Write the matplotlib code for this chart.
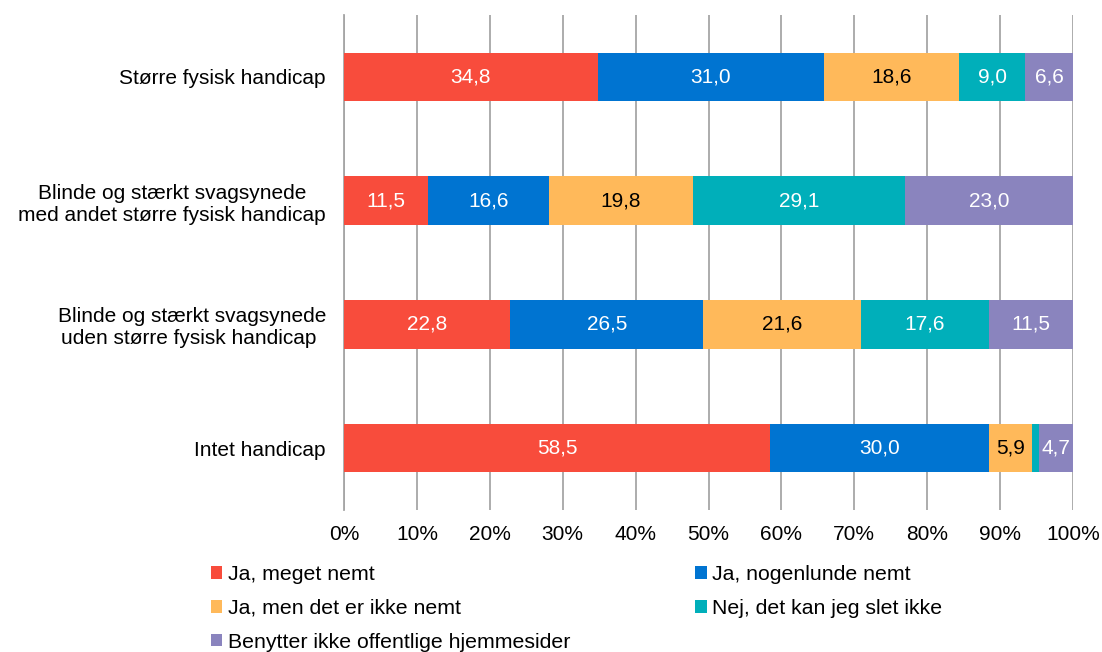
import matplotlib
matplotlib.use("Agg")
import matplotlib.pyplot as plt
from matplotlib.patches import Patch

plt.rcParams['font.family'] = ['Liberation Sans', 'DejaVu Sans']

categories = ["Større fysisk handicap",
              "Blinde og stærkt svagsynede\nmed andet større fysisk handicap",
              "Blinde og stærkt svagsynede\nuden større fysisk handicap ",
              "Intet handicap"]
series_names = ["Ja, meget nemt", "Ja, nogenlunde nemt", "Ja, men det er ikke nemt",
                "Nej, det kan jeg slet ikke", "Benytter ikke offentlige hjemmesider"]
ja_meget = [34.8, 11.5, 22.8, 58.5]
ja_nogenlunde = [31.0, 16.6, 26.5, 30.0]
ja_men = [18.6, 19.8, 21.6, 5.9]
nej = [9.0, 29.1, 17.6, 0.9]
benytter = [6.6, 23.0, 11.5, 4.7]
series = [ja_meget, ja_nogenlunde, ja_men, nej, benytter]
colors = ["#F84C3C", "#0074D1", "#FFB95A", "#00AFBA", "#8A84BE"]
label_colors = ["white", "white", "black", "white", "white"]
xticks = [0, 10, 20, 30, 40, 50, 60, 70, 80, 90, 100]

FS = 15
LFS = 15.3

fig = plt.figure(figsize=(11.02, 6.52), dpi=100)
ax = fig.add_axes([344/1102, 1-510/652, (1073-344)/1102, 495/652])

y = list(range(len(categories)))
left = [0.0]*len(categories)
for vals, col, lc in zip(series, colors, label_colors):
    bars = ax.barh(y, vals, left=left, height=0.39, color=col, zorder=3)
    for b, v, l in zip(bars, vals, left):
        if v >= 2:
            ax.text(l + v/2, b.get_y() + b.get_height()/2, f"{v:.1f}".replace(".", ","),
                    ha="center", va="center", color=lc, fontsize=FS, zorder=4)
    left = [a + b for a, b in zip(left, vals)]

ax.set_xlim(0, 100)
ax.set_ylim(len(categories) - 0.5, -0.5)
ax.set_xticks(xticks)
ax.set_xticklabels([f"{t}%" for t in xticks], fontsize=FS)
ax.set_yticks(y)
ax.set_yticklabels(categories, fontsize=FS, ha="right", multialignment="center")
ax.tick_params(axis='y', length=0, pad=13)
ax.tick_params(axis='x', length=0, pad=11)
ax.grid(axis='x', color='#A6A6A6', linewidth=1.3, zorder=0)
for s in ['top', 'right', 'bottom']:
    ax.spines[s].set_visible(False)
ax.spines['left'].set_color('#A6A6A6')
ax.spines['left'].set_linewidth(1.3)

order = [0, 2, 4, 1, 3]
handles = [Patch(facecolor=colors[i], edgecolor='none') for i in order]
labels = [series_names[i] for i in order]
fig.legend(handles, labels, loc='upper left', bbox_to_anchor=(211/1102, 1-565/652),
           ncol=2, frameon=False, fontsize=LFS, handlelength=0.53, handleheight=0.53,
           handletextpad=0.25, columnspacing=5.9, labelspacing=0.7, borderaxespad=0,
           borderpad=0)

fig.savefig("out.png", dpi=100)
